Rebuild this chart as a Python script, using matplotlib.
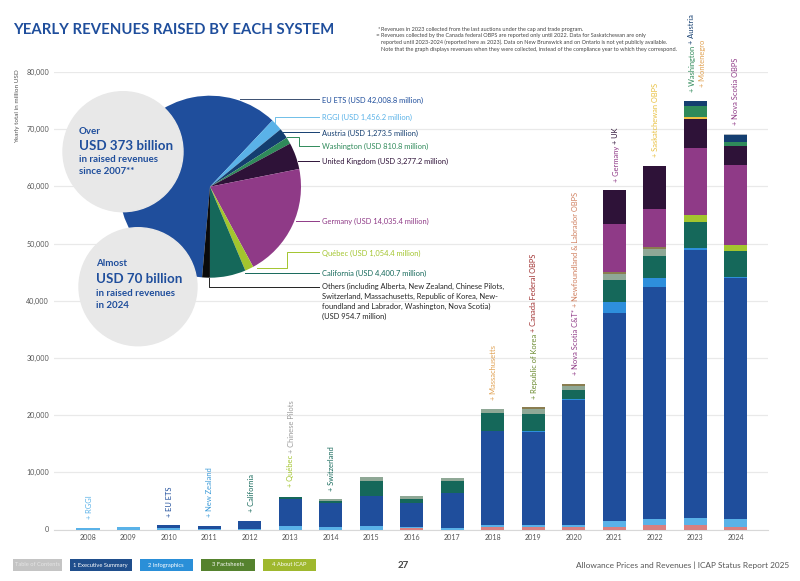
import matplotlib
matplotlib.use("Agg")
import matplotlib.pyplot as plt
from matplotlib.patches import Circle, Rectangle
import numpy as np

plt.rcParams['font.family'] = ['Lato', 'DejaVu Sans']

# bar data, thousand million USD per year
years = list(range(2008, 2025))
other_low = [0, 0, 0, 0, 0, 0, 0, 0, .2, 0, .45, .4, .4, .4, .7, .7, .45]
rggi = [.3, .47, .2, .15, .15, .58, .47, .58, .2, .25, .25, .3, .4, 1.0, 1.2, 1.3, 1.456]
eu_ets = [0, 0, .5, .43, 1.25, 4.78, 4.08, 5.25, 4.26, 6.15, 16.5, 16.4, 21.9, 36.5, 40.5, 46.85, 42.009]
canada = [0, 0, 0, 0, 0, 0, 0, 0, 0, 0, 0, .2, .15, 1.8, 1.5, .3, .3]
california = [0, 0, 0, 0, 0, .41, .4, 2.62, .76, 2.05, 3.1, 2.9, 1.55, 3.9, 4.0, 4.55, 4.401]
quebec_old = [0, 0, 0, 0, 0, 0, .3, .7, .41, .52, .7, .95, .7, 1.15, 1.1, 0, 0]
korea = [0, 0, 0, 0, 0, 0, 0, 0, 0, 0, 0, .3, .35, .25, .4, 0, 0]
quebec = [0, 0, 0, 0, 0, 0, 0, 0, 0, 0, 0, 0, 0, 0, 0, 1.3, 1.054]
germany = [0, 0, 0, 0, 0, 0, 0, 0, 0, 0, 0, 0, 0, 8.5, 6.6, 11.75, 14.035]
uk = [0, 0, 0, 0, 0, 0, 0, 0, 0, 0, 0, 0, 0, 5.8, 7.6, 5.0, 3.277]
sask = [0, 0, 0, 0, 0, 0, 0, 0, 0, 0, 0, 0, 0, 0, 0, .35, 0]
washington = [0, 0, 0, 0, 0, 0, 0, 0, 0, 0, 0, 0, 0, 0, 0, 1.9, .811]
austria = [0, 0, 0, 0, 0, 0, 0, 0, 0, 0, 0, 0, 0, 0, 0, .9, 1.274]
top_rest = [0, 0, 0, 0, 0, 0, 0, 0, 0, 0, 0, 0, 0, 0, 0, 0, .15]

stack = [other_low, rggi, eu_ets, canada, california, quebec_old, korea, quebec,
         germany, uk, sask, washington, austria, top_rest]
stack_colors = ["#d98080", "#5ab2e8", "#1f4e9c", "#2e8fdc", "#15685a", "#8fa896", "#8a7d50",
                "#a3c52e", "#8f3a87", "#2e1238", "#f0c040", "#2f8a5a", "#143e70", "#b0b8c0"]

# pie data, million USD
pie_labels = ["EU ETS", "RGGI", "Austria", "Washington", "United Kingdom", "Germany", "Québec", "California", "Others"]
pie_values = [42008.8, 1456.2, 1273.5, 810.8, 3277.2, 14035.4, 1054.4, 4400.7, 954.7]
pie_colors = ["#1f4e9c", "#5ab2e8", "#143e70", "#2f8a5a", "#2e1238", "#8f3a87", "#a3c52e", "#15685a", "#0a0a0a"]

BLUE = "#1f4e9c"
GREY = "#555555"

fig = plt.figure(figsize=(8, 5.81), dpi=100)

# main bars
ax = fig.add_axes([54 / 800, (581 - 529.5) / 581, 714 / 800, 457.5 / 581])
bottom = np.zeros(len(years))
for vals, col in zip(stack, stack_colors):
    ax.bar(years, vals, bottom=bottom, width=0.57, color=col, linewidth=0, zorder=3)
    bottom += np.array(vals)
ax.set_xlim(2007.16, 2024.8)
ax.set_ylim(0, 80)
ax.set_yticks(range(0, 90, 10))
ax.set_yticklabels(["{:,}".format(v * 1000) for v in range(0, 90, 10)], fontsize=5.1, color=GREY)
ax.set_xticks(years)
ax.set_xticklabels(years, fontsize=5.1, color=GREY)
ax.tick_params(length=0, pad=3.5)
ax.grid(axis="y", color="#e9e9e9", linewidth=0.9, zorder=0)
for s in ["top", "right", "left"]:
    ax.spines[s].set_visible(False)
ax.spines["bottom"].set_color("#d8d8d8")

# pie
pie_ax = fig.add_axes([(210 - 91) / 800, (581 - 186.7 - 91) / 581, 182 / 800, 182 / 581])
pie_ax.pie(pie_values, colors=pie_colors, startangle=265, counterclock=False, radius=1)
pie_ax.set_xlim(-1, 1)
pie_ax.set_ylim(-1, 1)

# overlay in pixel coordinates for everything else
ov = fig.add_axes([0, 0, 1, 1], facecolor="none")
ov.set_xlim(0, 800)
ov.set_ylim(581, 0)
ov.axis("off")
renderer = fig.canvas.get_renderer()

ov.text(13, 30, "YEARLY REVENUES RAISED BY EACH SYSTEM", fontsize=10.75, fontweight="bold", color=BLUE, va="center")
ov.text(18, 106, "Yearly total in million USD", fontsize=4.6, color=GREY, rotation=90, ha="center", va="center")

notes = ["Revenues in 2023 collected from the last auctions under the cap and trade program.",
         "Revenues collected by the Canada federal OBPS are reported only until 2022. Data for Saskatchewan are only",
         "reported until 2023-2024 (reported here as 2023). Data on New Brunswick and on Ontario is not yet publicly available.",
         "Note that the graph displays revenues when they were collected, instead of the compliance year to which they correspond."]
for y, line in zip([29, 35.5, 42.7, 50], notes):
    ov.text(381, y, line, fontsize=4.0, color="#444444", va="center")
ov.text(380, 29, "*", fontsize=4.0, color="#444444", va="center", ha="right")
ov.text(380, 35.5, "**", fontsize=4.0, color="#444444", va="center", ha="right")

# grey callouts
ov.add_patch(Circle((123, 151.7), 60, color="#e8e8e8", zorder=2))
ov.add_patch(Circle((138, 286.7), 59, color="#e8e8e8", zorder=2))
callouts = [(79, 131, "Over", 7.0), (79, 145.5, "USD 373 billion", 9.6), (79, 160, "in raised revenues", 7.0), (79, 172, "since 2007**", 7.0),
            (96, 264, "Almost", 7.0), (96, 279, "USD 70 billion", 9.6), (96, 294, "in raised revenues", 7.0), (96, 305.5, "in 2024", 7.0)]
for x, y, txt, size in callouts:
    ov.text(x, y, txt, fontsize=size, fontweight="bold", color=BLUE, va="center", zorder=3)

# pie leaders and labels
leaders = [([240, 319], [99, 99], "#3a4f70"),
           ([275, 275, 319], [123, 116.7, 116.7], "#6fbfe8"),
           ([282.7, 319], [131.7, 131.7], "#143e70"),
           ([287.3, 299, 299, 319], [137.3, 137.3, 145.7, 145.7], "#2f8a5a"),
           ([297.7, 319], [160.7, 160.7], "#2e1238"),
           ([296, 319], [221, 221], "#8f3a87"),
           ([256.7, 287.3, 287.3, 319], [268, 268, 252.3, 252.3], "#a3c52e"),
           ([245, 319], [273.3, 273.3], "#15685a"),
           ([209, 209, 319], [278.3, 286.7, 286.7], "#222222")]
for xs, ys, col in leaders:
    ov.plot(xs, ys, color=col, linewidth=0.7, zorder=4)

pie_texts = [(100, "EU ETS (USD 42,008.8 million)", "#1f4e9c"),
             (117, "RGGI (USD 1,456.2 million)", "#5ab2e8"),
             (133, "Austria (USD 1,273.5 million)", "#143e70"),
             (146, "Washington (USD 810.8 million)", "#2f8a5a"),
             (161.5, "United Kingdom (USD 3,277.2 million)", "#2e1238"),
             (221, "Germany (USD 14,035.4 million)", "#8f3a87"),
             (253, "Québec (USD 1,054.4 million)", "#a3c52e"),
             (273.5, "California (USD 4,400.7 million)", "#15685a"),
             (286, "Others (including Alberta, New Zealand, Chinese Pilots,", "#222222"),
             (296, "Switzerland, Massachusetts, Republic of Korea, New-", "#222222"),
             (306, "foundland and Labrador, Washington, Nova Scotia)", "#222222"),
             (316.5, "(USD 954.7 million)", "#222222")]
for y, txt, col in pie_texts:
    ov.text(322, y, txt, fontsize=5.45, color=col, va="center", zorder=4)

# rotated labels above the bars, one colour per system
def up_label(x, y, parts):
    for txt, col in parts:
        t = ov.text(x, y, txt, fontsize=5.4, color=col, rotation=90, ha="center", va="bottom")
        y -= t.get_window_extent(renderer).height + 1.5

up_label(90, 519, [("+ RGGI", "#5ab2e8")])
up_label(170, 517, [("+ EU ETS", "#1f4e9c")])
up_label(210, 517, [("+ New Zealand", "#3a9ad8")])
up_label(252, 512, [("+ California", "#15685a")])
up_label(291, 487, [("+ Québec", "#a3c52e"), ("+ Chinese Pilots", "#9a9a9a")])
up_label(331, 491, [("+ Switzerland", "#15685a")])
up_label(494, 400, [("+ Massachusetts", "#e0a050")])
up_label(534, 399, [("+ Republic of Korea", "#6a8a2e"), ("+ Canada Federal OBPS", "#a03030")])
up_label(575, 375, [("+ Nova Scotia C&T*", "#8f3a87"), ("+ Newfoundland & Labrador OBPS", "#d08060")])
up_label(616, 182, [("+ Germany", "#8f3a87"), ("+ UK", "#2e1238")])
up_label(656, 157, [("+ Saskatchewan OBPS", "#e8c040")])
up_label(692, 92, [("+ Washington", "#2f8a5a"), ("+ Austria", "#143e70")])
up_label(702, 87, [("+ Montenegro", "#e0a050")])
up_label(735, 125, [("+ Nova Scotia OBPS", "#8f3a87")])

# footer
buttons = [(13, 49, "Table of Contents", "#c4c4c4", "#e4e4e4"),
           (70, 61.5, "1 Executive Summary", "#1f4e8c", "white"),
           (139.5, 53.5, "2 Infographics", "#2a8fd8", "white"),
           (201, 53.5, "3 Factsheets", "#55822e", "white"),
           (262.5, 53.5, "4 About ICAP", "#9fb82e", "white")]
for x, w, txt, col, tcol in buttons:
    ov.add_patch(Rectangle((x, 558.7), w, 11.8, color=col, linewidth=0))
    ov.text(x + w / 2, 565, txt, fontsize=4.15, color=tcol, va="center", ha="center")
ov.text(403, 565, "27", fontsize=7, fontweight="bold", color="#444444", ha="center", va="center")
ov.text(789, 565, "Allowance Prices and Revenues | ICAP Status Report 2025", fontsize=5.95, color="#555555", ha="right", va="center")

fig.savefig("out.png", dpi=100)
